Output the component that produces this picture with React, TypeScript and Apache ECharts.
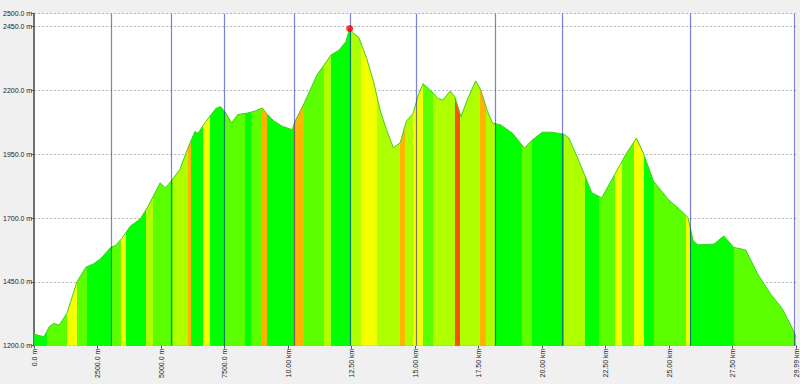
import React, { useEffect, useRef } from 'react';
import * as echarts from 'echarts';

// Profile: distance (km) and elevation (m)
const distanceKm = [0, 0.39, 0.59, 0.78, 0.98, 1.29, 1.68, 2.03, 2.34, 2.62, 3.01, 3.20, 3.44, 3.79, 4.18, 4.49, 4.96, 5.16, 5.39, 5.74, 6.05, 6.33, 6.45, 6.76, 7.15, 7.34, 7.54, 7.77, 8.01, 8.40, 8.67, 8.98, 9.18, 9.45, 9.77, 10.16, 10.27, 10.63, 11.13, 11.41, 11.68, 11.99, 12.27, 12.42, 12.58, 12.77, 13.09, 13.36, 13.63, 13.87, 14.14, 14.41, 14.65, 14.92, 15.12, 15.31, 15.59, 15.90, 16.09, 16.37, 16.56, 16.80, 17.07, 17.38, 17.58, 17.85, 18.05, 18.36, 18.83, 19.30, 19.61, 20.00, 20.39, 20.86, 21.05, 21.45, 21.95, 22.34, 22.85, 23.32, 23.71, 23.98, 24.38, 24.96, 25.47, 25.74, 25.94, 26.13, 26.76, 27.15, 27.54, 28.01, 28.48, 28.98, 29.45, 29.88, 29.99];
const elevationM = [1245, 1235, 1274, 1288, 1280, 1327, 1449, 1507, 1521, 1541, 1585, 1592, 1619, 1669, 1697, 1747, 1838, 1818, 1844, 1891, 1974, 2039, 2032, 2078, 2129, 2136, 2112, 2072, 2105, 2111, 2118, 2131, 2105, 2079, 2059, 2046, 2079, 2150, 2260, 2299, 2338, 2357, 2390, 2442, 2422, 2409, 2325, 2234, 2118, 2046, 1975, 1995, 2079, 2110, 2182, 2226, 2201, 2168, 2162, 2197, 2175, 2097, 2168, 2237, 2201, 2116, 2071, 2065, 2032, 1974, 2006, 2036, 2036, 2028, 2013, 1922, 1799, 1779, 1870, 1954, 2013, 1954, 1844, 1773, 1728, 1702, 1611, 1595, 1598, 1630, 1585, 1575, 1481, 1404, 1345, 1261, 1235];

// Waypoint markers (km)
const waypointKm = [3.03, 5.40, 7.49, 10.23, 12.45, 15.05, 18.15, 20.78, 25.83, 29.93];

// Coloured bands under the profile (start km + level)
const bandStartKm = [0, 0.51, 1.29, 1.68, 2.07, 3.01, 3.40, 3.63, 4.41, 4.69, 5.47, 6.05, 6.17, 6.64, 6.91, 7.50, 8.28, 8.52, 8.98, 9.18, 10.23, 10.63, 11.41, 11.68, 12.46, 12.85, 13.48, 14.41, 14.61, 14.92, 15.31, 15.70, 16.56, 16.76, 17.54, 17.77, 18.13, 19.22, 19.61, 20.86, 21.68, 22.23, 22.85, 23.13, 23.63, 24.02, 24.41, 25.66, 25.82, 27.54];
const bandLevel = [0, 1, 3, 1, 0, 1, 3, 0, 2, 1, 2, 4, 0, 3, 0, 1, 0, 1, 4, 0, 4, 1, 2, 0, 2, 3, 2, 4, 2, 3, 1, 2, 5, 2, 4, 2, 0, 1, 0, 2, 0, 1, 3, 1, 3, 0, 1, 3, 0, 1];
const levelColors = ['#00ff00', '#5cff00', '#b0ff00', '#f4ff00', '#ffb400', '#ff5000'];

// Axis ticks
const yTickValues = [1200, 1450, 1700, 1950, 2200, 2450, 2500];
const xTickValues = [0, 2.5, 5, 7.5, 10, 12.5, 15, 17.5, 20, 22.5, 25, 27.5, 29.99];

const X_MIN = 0;
const X_MAX = 29.99;

export default function App() {
  const ref = useRef<HTMLDivElement>(null);

  useEffect(() => {
    if (!ref.current) return;
    const chart = echarts.init(ref.current, undefined, { renderer: 'svg' });

    const span = distanceKm[distanceKm.length - 1] - distanceKm[0];
    const stops: { offset: number; color: string }[] = [];
    bandStartKm.forEach((s, i) => {
      const e = i + 1 < bandStartKm.length ? bandStartKm[i + 1] : X_MAX;
      const c = levelColors[bandLevel[i]];
      stops.push({ offset: Math.max(0, Math.min(1, (s - distanceKm[0]) / span)), color: c });
      stops.push({ offset: Math.max(0, Math.min(1, (e - distanceKm[0]) / span)), color: c });
    });

    let peakIdx = 0;
    elevationM.forEach((v, i) => { if (v > elevationM[peakIdx]) peakIdx = i; });

    const font = "'Liberation Sans Narrow', 'Liberation Sans', Arial, sans-serif";

    chart.setOption({
      animation: false,
      backgroundColor: '#f0f0f0',
      grid: {
        left: 28, right: 4, top: 13.7, bottom: 38.3,
        show: true, backgroundColor: '#ffffff', borderWidth: 0,
      },
      xAxis: {
        type: 'value', min: X_MIN, max: X_MAX,
        axisLine: { show: true, lineStyle: { color: '#a0a0a0', width: 1 } },
        axisTick: { show: true, length: 3, customValues: xTickValues, lineStyle: { color: '#555' } },
        axisLabel: {
          customValues: xTickValues, rotate: 90, margin: 3,
          fontSize: 7, fontFamily: font, color: '#222',
          formatter: (v: number) => v < 10 ? (v * 1000).toFixed(1) + ' m' : v.toFixed(2) + ' km',
        },
        splitLine: { show: false },
      },
      yAxis: {
        type: 'value', min: 1200, max: 2500,
        axisLine: { show: true, lineStyle: { color: '#707070', width: 2 } },
        axisTick: { show: true, length: 3, customValues: yTickValues, lineStyle: { color: '#555' } },
        axisLabel: {
          customValues: yTickValues, margin: 2,
          fontSize: 7, fontFamily: font, color: '#222',
          formatter: (v: number) => v.toFixed(1) + ' m',
        },
        splitLine: { show: true, lineStyle: { color: '#b4b4b4', type: [2, 2], width: 1 } },
      },
      series: [
        {
          type: 'line',
          data: distanceKm.map((d, i) => [d, elevationM[i]]),
          showSymbol: false,
          symbol: 'none',
          lineStyle: { color: '#3fcf1f', width: 1 },
          areaStyle: {
            opacity: 1,
            origin: 'start',
            color: new echarts.graphic.LinearGradient(0, 0, 1, 0, stops),
          },
          markLine: {
            silent: true,
            symbol: ['none', 'none'],
            label: { show: false },
            lineStyle: { color: 'rgba(20,20,190,0.55)', width: 1.2, type: 'solid' },
            data: waypointKm.map((k) => ({ xAxis: k })),
          },
          z: 2,
        },
        {
          type: 'scatter',
          data: [[distanceKm[peakIdx], elevationM[peakIdx]]],
          symbolSize: 7,
          itemStyle: { color: '#ff0000' },
          z: 5,
        },
      ],
    });

    return () => chart.dispose();
  }, []);

  return (
    <div
      ref={ref}
      style={{ position: 'fixed', left: 0, top: 0, width: 800, height: 384, background: '#f0f0f0' }}
    />
  );
}
